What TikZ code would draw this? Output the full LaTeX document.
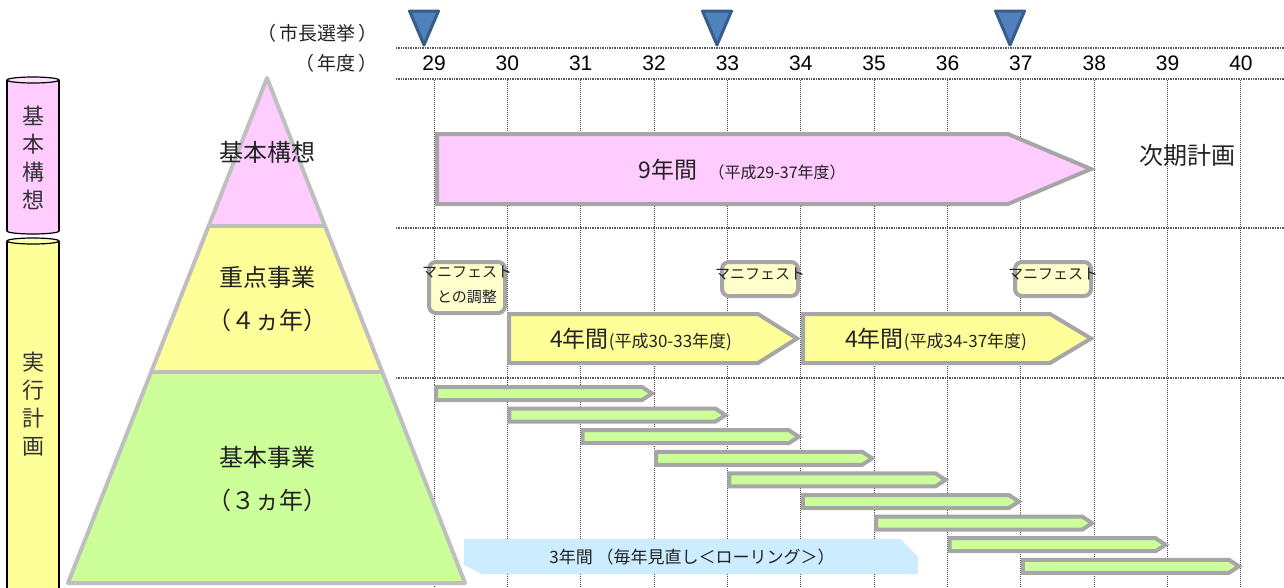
\documentclass[tikz,border=0pt]{standalone}
\usepackage{fontspec}
\newfontfamily\jp{Noto Sans CJK JP}
\newfontfamily\lat{Liberation Sans}
\definecolor{pinkf}{HTML}{FFCCFF}
\definecolor{yelf}{HTML}{FFFF99}
\definecolor{grnf}{HTML}{CCFF99}
\definecolor{manf}{HTML}{FFFFCC}
\definecolor{bluef}{HTML}{4F81BD}
\definecolor{blued}{HTML}{385D8A}
\definecolor{lblue}{HTML}{CCECFF}
\definecolor{agray}{HTML}{A6A6A6}
\definecolor{pgray}{HTML}{BFBFBF}
\definecolor{txt}{HTML}{222222}
\begin{document}
\begin{tikzpicture}[x=1pt,y=-1pt,
  vgrid/.style={draw=black!75, line width=1pt, dash pattern=on 1pt off 1pt},
  hgrid/.style={draw=black!65, line width=1.6pt, dash pattern=on 1pt off 0.7pt},
  elect/.style={draw=blued, fill=bluef, line width=3pt, line join=round},
  arrowbox/.style={draw=agray, line width=4pt, line join=miter},
  pyr/.style={draw=pgray, line width=4pt, line join=round},
  manbox/.style={draw=agray, fill=manf, line width=4pt, rounded corners=7pt},
  cyl/.style={draw=black, line width=1.2pt},
  yearlbl/.style={font=\lat\fontsize{21}{24}\selectfont, text=black},
  head/.style={font=\jp\fontsize{19}{22}\selectfont, text=txt, anchor=east, inner sep=0pt},
  pyrtxt/.style={font=\jp\fontsize{24}{28}\selectfont, text=txt},
  vtxt/.style={font=\jp\fontsize{22}{28}\selectfont, text=black!80, align=center},
  mantxt/.style={font=\jp\fontsize{15}{25}\selectfont, text=txt, align=center},
  big/.style={font=\jp\fontsize{23}{26}\selectfont, text=txt},
]
\useasboundingbox (0,0) rectangle (1284,587);
\clip (0,0) rectangle (1284,587);

% ---- grid ----
\draw[hgrid] (396,48) -- (1284,48);
\draw[hgrid] (396,79) -- (1284,79);
\draw[hgrid] (396,228) -- (1284,228);
\draw[hgrid] (396,378) -- (1284,378);
\foreach \n [evaluate=\n as \xx using 434+(\n-29)*73.36] in {29,...,40}{
  \draw[vgrid] (\xx,80) -- (\xx,587);
  \node[yearlbl] (y\n) at (\xx,63) {\n};
}

% ---- header ----
\node[head] (senkyo) at (378,33) {（\,市長選挙\,）};
\node[head] (nendo) at (378,63) {（\,年度\,）};
\foreach \k/\xx in {1/424,2/717,3/1010}{
  \draw[elect] (\xx-14.5,11) -- (\xx+14.5,11) -- (\xx,45) -- cycle;
}

% ---- cylinders ----
\draw[cyl, fill=pinkf] (33,231) ellipse (26 and 3);
\fill[pinkf] (8,80) rectangle (58,231);
\draw[cyl] (7,80) -- (7,231) (59,80) -- (59,231);
\draw[cyl, fill=pinkf!60] (33,80) ellipse (26 and 3);
\node[vtxt] (kihonkoso) at (33,158) {基\\本\\構\\想};

\fill[yelf] (7,241) rectangle (59,600);
\draw[cyl] (7,241) -- (7,600) (59,241) -- (59,600);
\draw[cyl, fill=yelf!70] (33,241) ellipse (26 and 3);
\node[vtxt] (jikko) at (33,404) {実\\行\\計\\画};

% ---- pyramid ----
\fill[pinkf] (267,78) -- (325,226) -- (208.7,226) -- cycle;
\fill[yelf] (208.7,226) -- (325,226) -- (382.3,372) -- (151.2,372) -- cycle;
\fill[grnf] (151.2,372) -- (382.3,372) -- (465,583) -- (68,583) -- cycle;
\draw[pyr] (267,78) -- (465,583) -- (68,583) -- cycle;
\draw[pyr] (208.7,226) -- (325,226);
\draw[pyr] (151.2,372) -- (382.3,372);
\node[pyrtxt] (p1) at (267,152) {基本構想};
\node[pyrtxt] (p2) at (267,277) {重点事業};
\node[pyrtxt] (p2b) at (267,320) {（４ヵ年）};
\node[pyrtxt] (p3) at (267,457) {基本事業};
\node[pyrtxt] (p3b) at (267,500) {（３ヵ年）};

% ---- 9-year arrow ----
\draw[arrowbox, fill=pinkf] (437,134) -- (1008,134) -- (1091,169) -- (1008,204) -- (437,204) -- cycle;
\node[big] (nine) at (742,170) {9年間\hspace{0.5em}{\fontsize{16}{20}\selectfont（平成29-37年度）}};
\node[font=\jp\fontsize{24}{28}\selectfont, text=txt] (jiki) at (1187,155) {次期計画};

% ---- manifest boxes ----
\draw[manbox] (429,262) rectangle (505,313);
\node[mantxt] (m1) at (467,285) {マニフェスト\\との調整};
\draw[manbox] (722,262) rectangle (798,296);
\node[mantxt] (m2) at (760,274) {マニフェスト};
\draw[manbox] (1015,262) rectangle (1091,296);
\node[mantxt] (m3) at (1053,274) {マニフェスト};

% ---- 4-year arrows ----
\draw[arrowbox, fill=yelf] (509,314) -- (758,314) -- (797,338.5) -- (758,363) -- (509,363) -- cycle;
\node[big] (four1) at (641,339) {4年間{\fontsize{17}{20}\selectfont(平成30-33年度)}};
\draw[arrowbox, fill=yelf] (803,314) -- (1050,314) -- (1091,338.5) -- (1050,363) -- (803,363) -- cycle;
\node[big] (four2) at (936,339) {4年間{\fontsize{17}{20}\selectfont(平成34-37年度)}};

% ---- 3-year bars ----
\foreach \i in {0,...,8}{
  \pgfmathsetmacro{\xs}{434+\i*73.36}
  \pgfmathsetmacro{\xt}{434+(\i+3)*73.36}
  \pgfmathsetmacro{\yt}{385+\i*21.6}
  \draw[arrowbox, fill=grnf] (\xs+2,\yt+2) -- (\xt-12,\yt+2) -- (\xt-2,\yt+8.5) -- (\xt-12,\yt+15) -- (\xs+2,\yt+15) -- cycle;
}

% ---- rolling label ----
\fill[lblue] (464,539) -- (900,539) -- (918,557) -- (918,574) -- (482,574) -- (464,565) -- cycle;
\node[font=\jp\fontsize{17}{20}\selectfont, text=txt] (roll) at (692,557) {3年間 （毎年見直し＜ローリング＞）};
\end{tikzpicture}
\end{document}
